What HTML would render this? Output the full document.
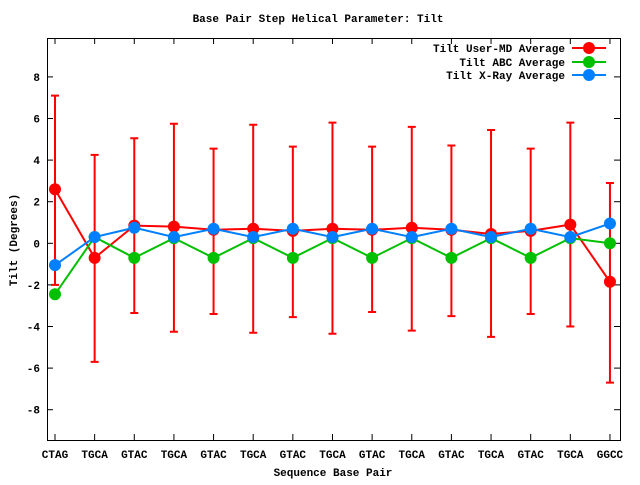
<!DOCTYPE html>
<html><head><meta charset="utf-8"><style>
html,body{margin:0;padding:0;background:#fff}
svg text{font-family:"Liberation Mono","DejaVu Sans Mono",monospace;font-weight:bold;font-size:11px;fill:#000}
</style></head><body>
<svg id="s" width="640" height="480" viewBox="0 0 640 480" xmlns="http://www.w3.org/2000/svg">
<rect x="47.5" y="38.5" width="573" height="402" fill="none" stroke="#000" stroke-width="1"/>
<text x="318" y="22" text-anchor="middle">Base Pair Step Helical Parameter: Tilt</text>
<text x="333" y="476" text-anchor="middle">Sequence Base Pair</text>
<text transform="translate(17,240) rotate(-90)" text-anchor="middle">Tilt (Degrees)</text>
<g id="g"></g>
<text x="565" y="52" text-anchor="end">Tilt User-MD Average</text>
<text x="565" y="66" text-anchor="end">Tilt ABC Average</text>
<text x="565" y="79" text-anchor="end">Tilt X-Ray Average</text>
</svg>
<script>
var g=document.getElementById('g'),h='';
function Y(v){return 243.3-v*20.8}
function X(i){return 55+i*39.64}
for(var v=-8;v<=8;v+=2){var y=Y(v);h+='<line x1="47" x2="53" y1="'+y+'" y2="'+y+'" stroke="#000"/><line x1="614" x2="620" y1="'+y+'" y2="'+y+'" stroke="#000"/><text x="40" y="'+(y+4)+'" text-anchor="end">'+v+'</text>';}
var lab=['CTAG','TGCA','GTAC','TGCA','GTAC','TGCA','GTAC','TGCA','GTAC','TGCA','GTAC','TGCA','GTAC','TGCA','GGCC'];
for(var i=0;i<15;i++){var x=X(i);h+='<line x1="'+x+'" x2="'+x+'" y1="440" y2="434" stroke="#000"/><line x1="'+x+'" x2="'+x+'" y1="38" y2="44" stroke="#000"/><text x="'+x+'" y="458" text-anchor="middle">'+lab[i]+'</text>';}
var red=[2.6,-0.7,0.85,0.8,0.65,0.7,0.6,0.7,0.65,0.75,0.65,0.45,0.6,0.9,-1.85];
var hi=[7.1,4.25,5.05,5.75,4.55,5.7,4.65,5.8,4.65,5.6,4.7,5.45,4.55,5.8,2.9];
var lo=[-2,-5.7,-3.35,-4.25,-3.4,-4.3,-3.55,-4.35,-3.3,-4.2,-3.5,-4.5,-3.4,-4.0,-6.7];
var grn=[-2.45,0.3,-0.7,0.25,-0.7,0.25,-0.7,0.25,-0.7,0.25,-0.7,0.25,-0.7,0.25,0.0];
var blu=[-1.05,0.3,0.75,0.3,0.7,0.3,0.7,0.3,0.7,0.3,0.7,0.3,0.7,0.3,0.95];
for(var i=0;i<15;i++){var x=X(i);h+='<path d="M'+x+' '+Y(hi[i])+'V'+Y(lo[i])+'M'+(x-4)+' '+Y(hi[i])+'h8M'+(x-4)+' '+Y(lo[i])+'h8" stroke="#f00" stroke-width="2" fill="none"/>';}
function ser(d,c){var p='';for(var i=0;i<15;i++)p+=(i?'L':'M')+X(i)+' '+Y(d[i]);h+='<path d="'+p+'" stroke="'+c+'" stroke-width="2" fill="none"/>';for(var i=0;i<15;i++)h+='<circle cx="'+X(i)+'" cy="'+Y(d[i])+'" r="6" fill="'+c+'"/>';}
ser(red,'#f00');ser(grn,'#00c000');ser(blu,'#0080ff');
var L=[['#f00',48],['#00c000',62],['#0080ff',75]];
L.forEach(function(l){h+='<line x1="572" x2="606" y1="'+l[1]+'" y2="'+l[1]+'" stroke="'+l[0]+'" stroke-width="2"/><circle cx="589" cy="'+l[1]+'" r="6" fill="'+l[0]+'"/>';});
g.innerHTML=h;
</script>
</body></html>
